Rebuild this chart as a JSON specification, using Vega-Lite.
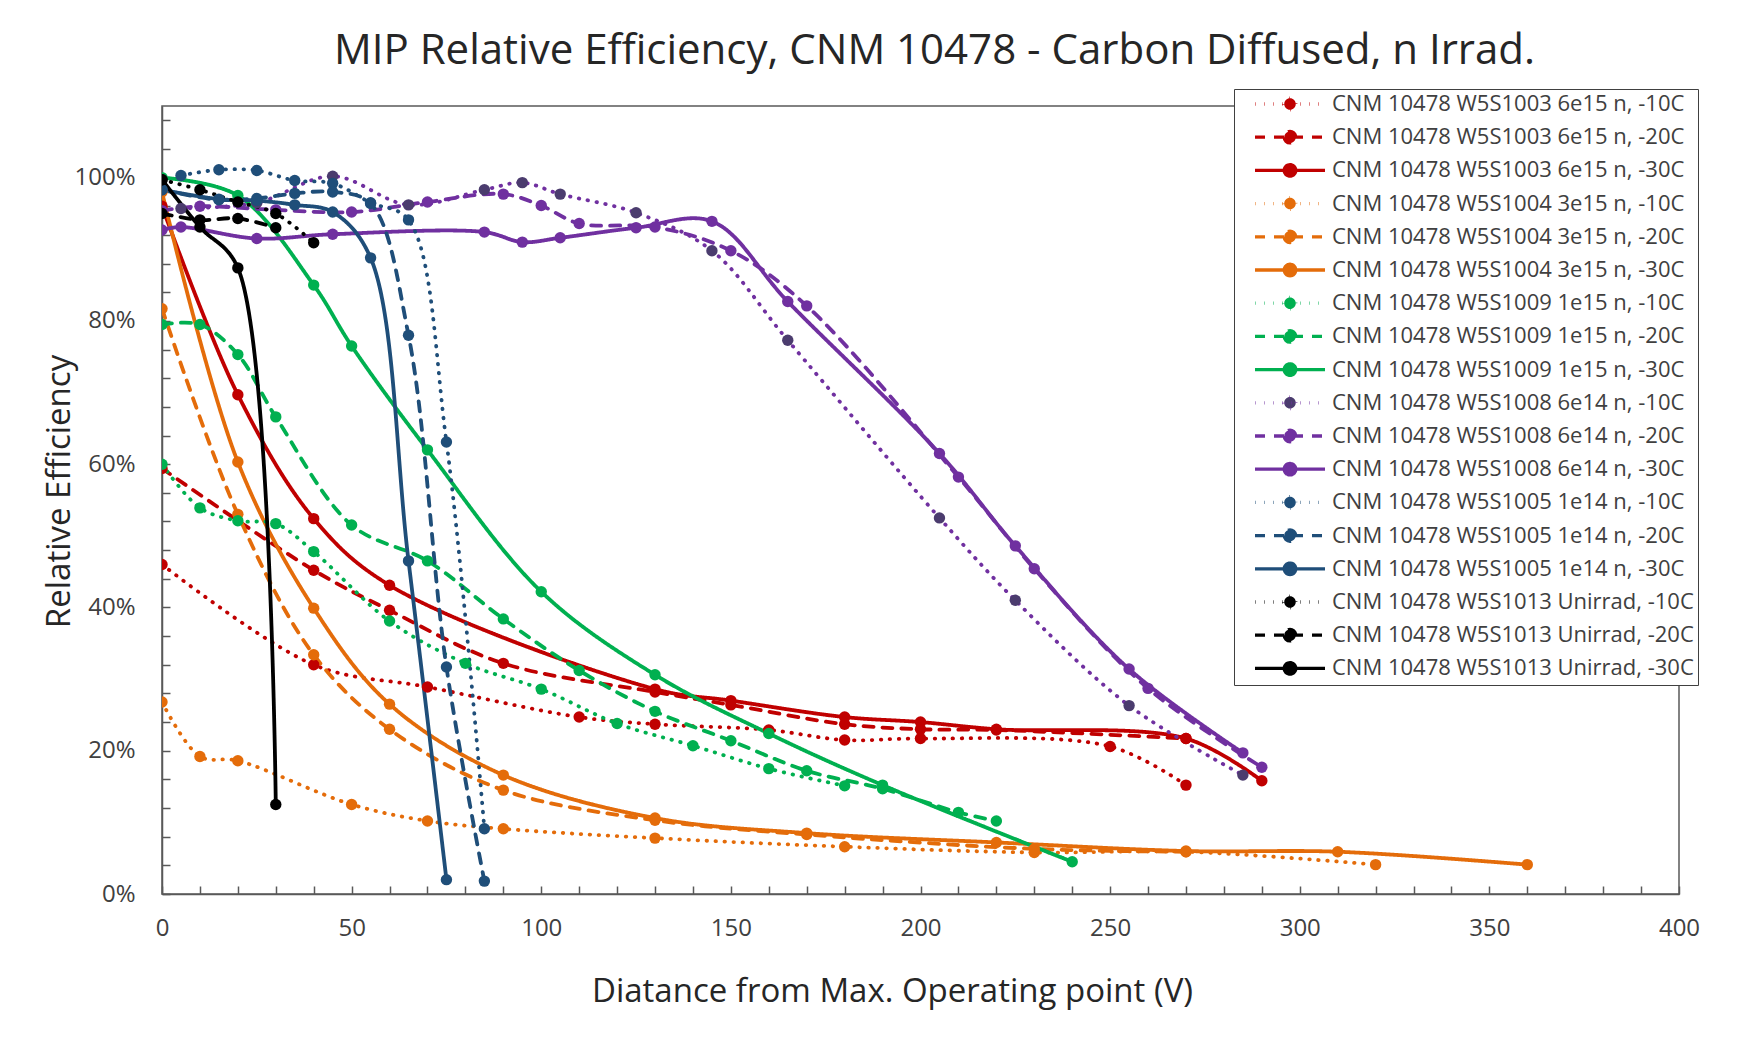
{
  "$schema": "https://vega.github.io/schema/vega-lite/v6.json",
  "width": 1517,
  "height": 788,
  "autosize": {"type": "none"},
  "padding": {"left": 162, "top": 106, "right": 60, "bottom": 146},
  "background": "white",
  "title": {"text": "MIP Relative Efficiency, CNM 10478 - Carbon Diffused, n Irrad.", "font": "Open Sans", "fontSize": 42, "fontWeight": "normal", "color": "#262626", "anchor": "middle", "dx": 14, "offset": 16},
  "config": {"view": {"stroke": "#595959", "strokeWidth": 1.5}, "font": "Open Sans"},
  "data": {"values": [
    {"s": "CNM 10478 W5S1003 6e15 n, -10C", "v": 0, "e": 0.46},
    {"s": "CNM 10478 W5S1003 6e15 n, -10C", "v": 40, "e": 0.32},
    {"s": "CNM 10478 W5S1003 6e15 n, -10C", "v": 70, "e": 0.289},
    {"s": "CNM 10478 W5S1003 6e15 n, -10C", "v": 110, "e": 0.247},
    {"s": "CNM 10478 W5S1003 6e15 n, -10C", "v": 130, "e": 0.237},
    {"s": "CNM 10478 W5S1003 6e15 n, -10C", "v": 160, "e": 0.229},
    {"s": "CNM 10478 W5S1003 6e15 n, -10C", "v": 180, "e": 0.215},
    {"s": "CNM 10478 W5S1003 6e15 n, -10C", "v": 200, "e": 0.217},
    {"s": "CNM 10478 W5S1003 6e15 n, -10C", "v": 250, "e": 0.206},
    {"s": "CNM 10478 W5S1003 6e15 n, -10C", "v": 270, "e": 0.152},
    {"s": "CNM 10478 W5S1003 6e15 n, -20C", "v": 0, "e": 0.594},
    {"s": "CNM 10478 W5S1003 6e15 n, -20C", "v": 40, "e": 0.452},
    {"s": "CNM 10478 W5S1003 6e15 n, -20C", "v": 60, "e": 0.396},
    {"s": "CNM 10478 W5S1003 6e15 n, -20C", "v": 90, "e": 0.322},
    {"s": "CNM 10478 W5S1003 6e15 n, -20C", "v": 130, "e": 0.282},
    {"s": "CNM 10478 W5S1003 6e15 n, -20C", "v": 150, "e": 0.264},
    {"s": "CNM 10478 W5S1003 6e15 n, -20C", "v": 180, "e": 0.237},
    {"s": "CNM 10478 W5S1003 6e15 n, -20C", "v": 200, "e": 0.23},
    {"s": "CNM 10478 W5S1003 6e15 n, -20C", "v": 220, "e": 0.229},
    {"s": "CNM 10478 W5S1003 6e15 n, -20C", "v": 270, "e": 0.217},
    {"s": "CNM 10478 W5S1003 6e15 n, -30C", "v": 0, "e": 0.96},
    {"s": "CNM 10478 W5S1003 6e15 n, -30C", "v": 20, "e": 0.697},
    {"s": "CNM 10478 W5S1003 6e15 n, -30C", "v": 40, "e": 0.524},
    {"s": "CNM 10478 W5S1003 6e15 n, -30C", "v": 60, "e": 0.431},
    {"s": "CNM 10478 W5S1003 6e15 n, -30C", "v": 130, "e": 0.286},
    {"s": "CNM 10478 W5S1003 6e15 n, -30C", "v": 150, "e": 0.27},
    {"s": "CNM 10478 W5S1003 6e15 n, -30C", "v": 180, "e": 0.247},
    {"s": "CNM 10478 W5S1003 6e15 n, -30C", "v": 200, "e": 0.24},
    {"s": "CNM 10478 W5S1003 6e15 n, -30C", "v": 220, "e": 0.23},
    {"s": "CNM 10478 W5S1003 6e15 n, -30C", "v": 270, "e": 0.217},
    {"s": "CNM 10478 W5S1003 6e15 n, -30C", "v": 290, "e": 0.158},
    {"s": "CNM 10478 W5S1004 3e15 n, -10C", "v": 0, "e": 0.268},
    {"s": "CNM 10478 W5S1004 3e15 n, -10C", "v": 10, "e": 0.192},
    {"s": "CNM 10478 W5S1004 3e15 n, -10C", "v": 20, "e": 0.186},
    {"s": "CNM 10478 W5S1004 3e15 n, -10C", "v": 50, "e": 0.125},
    {"s": "CNM 10478 W5S1004 3e15 n, -10C", "v": 70, "e": 0.102},
    {"s": "CNM 10478 W5S1004 3e15 n, -10C", "v": 90, "e": 0.091},
    {"s": "CNM 10478 W5S1004 3e15 n, -10C", "v": 130, "e": 0.078},
    {"s": "CNM 10478 W5S1004 3e15 n, -10C", "v": 180, "e": 0.066},
    {"s": "CNM 10478 W5S1004 3e15 n, -10C", "v": 230, "e": 0.058},
    {"s": "CNM 10478 W5S1004 3e15 n, -10C", "v": 270, "e": 0.059},
    {"s": "CNM 10478 W5S1004 3e15 n, -10C", "v": 320, "e": 0.041},
    {"s": "CNM 10478 W5S1004 3e15 n, -20C", "v": 0, "e": 0.817},
    {"s": "CNM 10478 W5S1004 3e15 n, -20C", "v": 20, "e": 0.53},
    {"s": "CNM 10478 W5S1004 3e15 n, -20C", "v": 40, "e": 0.334},
    {"s": "CNM 10478 W5S1004 3e15 n, -20C", "v": 60, "e": 0.23},
    {"s": "CNM 10478 W5S1004 3e15 n, -20C", "v": 90, "e": 0.145},
    {"s": "CNM 10478 W5S1004 3e15 n, -20C", "v": 130, "e": 0.103},
    {"s": "CNM 10478 W5S1004 3e15 n, -20C", "v": 170, "e": 0.083},
    {"s": "CNM 10478 W5S1004 3e15 n, -20C", "v": 230, "e": 0.063},
    {"s": "CNM 10478 W5S1004 3e15 n, -20C", "v": 270, "e": 0.059},
    {"s": "CNM 10478 W5S1004 3e15 n, -30C", "v": 0, "e": 0.98},
    {"s": "CNM 10478 W5S1004 3e15 n, -30C", "v": 20, "e": 0.603},
    {"s": "CNM 10478 W5S1004 3e15 n, -30C", "v": 40, "e": 0.399},
    {"s": "CNM 10478 W5S1004 3e15 n, -30C", "v": 60, "e": 0.265},
    {"s": "CNM 10478 W5S1004 3e15 n, -30C", "v": 90, "e": 0.166},
    {"s": "CNM 10478 W5S1004 3e15 n, -30C", "v": 130, "e": 0.106},
    {"s": "CNM 10478 W5S1004 3e15 n, -30C", "v": 170, "e": 0.085},
    {"s": "CNM 10478 W5S1004 3e15 n, -30C", "v": 220, "e": 0.072},
    {"s": "CNM 10478 W5S1004 3e15 n, -30C", "v": 270, "e": 0.06},
    {"s": "CNM 10478 W5S1004 3e15 n, -30C", "v": 310, "e": 0.059},
    {"s": "CNM 10478 W5S1004 3e15 n, -30C", "v": 360, "e": 0.041},
    {"s": "CNM 10478 W5S1009 1e15 n, -10C", "v": 0, "e": 0.6},
    {"s": "CNM 10478 W5S1009 1e15 n, -10C", "v": 10, "e": 0.539},
    {"s": "CNM 10478 W5S1009 1e15 n, -10C", "v": 20, "e": 0.521},
    {"s": "CNM 10478 W5S1009 1e15 n, -10C", "v": 30, "e": 0.517},
    {"s": "CNM 10478 W5S1009 1e15 n, -10C", "v": 40, "e": 0.478},
    {"s": "CNM 10478 W5S1009 1e15 n, -10C", "v": 60, "e": 0.381},
    {"s": "CNM 10478 W5S1009 1e15 n, -10C", "v": 80, "e": 0.322},
    {"s": "CNM 10478 W5S1009 1e15 n, -10C", "v": 100, "e": 0.286},
    {"s": "CNM 10478 W5S1009 1e15 n, -10C", "v": 120, "e": 0.238},
    {"s": "CNM 10478 W5S1009 1e15 n, -10C", "v": 140, "e": 0.207},
    {"s": "CNM 10478 W5S1009 1e15 n, -10C", "v": 160, "e": 0.175},
    {"s": "CNM 10478 W5S1009 1e15 n, -10C", "v": 180, "e": 0.151},
    {"s": "CNM 10478 W5S1009 1e15 n, -20C", "v": 0, "e": 0.795},
    {"s": "CNM 10478 W5S1009 1e15 n, -20C", "v": 10, "e": 0.795},
    {"s": "CNM 10478 W5S1009 1e15 n, -20C", "v": 20, "e": 0.753},
    {"s": "CNM 10478 W5S1009 1e15 n, -20C", "v": 30, "e": 0.666},
    {"s": "CNM 10478 W5S1009 1e15 n, -20C", "v": 50, "e": 0.515},
    {"s": "CNM 10478 W5S1009 1e15 n, -20C", "v": 70, "e": 0.465},
    {"s": "CNM 10478 W5S1009 1e15 n, -20C", "v": 90, "e": 0.384},
    {"s": "CNM 10478 W5S1009 1e15 n, -20C", "v": 110, "e": 0.312},
    {"s": "CNM 10478 W5S1009 1e15 n, -20C", "v": 130, "e": 0.255},
    {"s": "CNM 10478 W5S1009 1e15 n, -20C", "v": 150, "e": 0.214},
    {"s": "CNM 10478 W5S1009 1e15 n, -20C", "v": 170, "e": 0.172},
    {"s": "CNM 10478 W5S1009 1e15 n, -20C", "v": 190, "e": 0.147},
    {"s": "CNM 10478 W5S1009 1e15 n, -20C", "v": 210, "e": 0.114},
    {"s": "CNM 10478 W5S1009 1e15 n, -20C", "v": 220, "e": 0.102},
    {"s": "CNM 10478 W5S1009 1e15 n, -30C", "v": 0, "e": 1.0},
    {"s": "CNM 10478 W5S1009 1e15 n, -30C", "v": 20, "e": 0.975},
    {"s": "CNM 10478 W5S1009 1e15 n, -30C", "v": 40, "e": 0.85},
    {"s": "CNM 10478 W5S1009 1e15 n, -30C", "v": 50, "e": 0.765},
    {"s": "CNM 10478 W5S1009 1e15 n, -30C", "v": 70, "e": 0.62},
    {"s": "CNM 10478 W5S1009 1e15 n, -30C", "v": 100, "e": 0.422},
    {"s": "CNM 10478 W5S1009 1e15 n, -30C", "v": 130, "e": 0.306},
    {"s": "CNM 10478 W5S1009 1e15 n, -30C", "v": 160, "e": 0.224},
    {"s": "CNM 10478 W5S1009 1e15 n, -30C", "v": 190, "e": 0.152},
    {"s": "CNM 10478 W5S1009 1e15 n, -30C", "v": 240, "e": 0.045},
    {"s": "CNM 10478 W5S1008 6e14 n, -10C", "v": 5, "e": 0.957},
    {"s": "CNM 10478 W5S1008 6e14 n, -10C", "v": 25, "e": 0.965},
    {"s": "CNM 10478 W5S1008 6e14 n, -10C", "v": 45, "e": 1.002},
    {"s": "CNM 10478 W5S1008 6e14 n, -10C", "v": 65, "e": 0.962},
    {"s": "CNM 10478 W5S1008 6e14 n, -10C", "v": 85, "e": 0.983},
    {"s": "CNM 10478 W5S1008 6e14 n, -10C", "v": 95, "e": 0.993},
    {"s": "CNM 10478 W5S1008 6e14 n, -10C", "v": 105, "e": 0.977},
    {"s": "CNM 10478 W5S1008 6e14 n, -10C", "v": 125, "e": 0.951},
    {"s": "CNM 10478 W5S1008 6e14 n, -10C", "v": 145, "e": 0.898},
    {"s": "CNM 10478 W5S1008 6e14 n, -10C", "v": 165, "e": 0.773},
    {"s": "CNM 10478 W5S1008 6e14 n, -10C", "v": 205, "e": 0.525},
    {"s": "CNM 10478 W5S1008 6e14 n, -10C", "v": 225, "e": 0.41},
    {"s": "CNM 10478 W5S1008 6e14 n, -10C", "v": 255, "e": 0.263},
    {"s": "CNM 10478 W5S1008 6e14 n, -10C", "v": 285, "e": 0.166},
    {"s": "CNM 10478 W5S1008 6e14 n, -20C", "v": 0, "e": 0.954},
    {"s": "CNM 10478 W5S1008 6e14 n, -20C", "v": 10, "e": 0.96},
    {"s": "CNM 10478 W5S1008 6e14 n, -20C", "v": 30, "e": 0.955},
    {"s": "CNM 10478 W5S1008 6e14 n, -20C", "v": 50, "e": 0.952},
    {"s": "CNM 10478 W5S1008 6e14 n, -20C", "v": 70, "e": 0.966},
    {"s": "CNM 10478 W5S1008 6e14 n, -20C", "v": 90, "e": 0.977},
    {"s": "CNM 10478 W5S1008 6e14 n, -20C", "v": 100, "e": 0.961},
    {"s": "CNM 10478 W5S1008 6e14 n, -20C", "v": 110, "e": 0.936},
    {"s": "CNM 10478 W5S1008 6e14 n, -20C", "v": 130, "e": 0.931},
    {"s": "CNM 10478 W5S1008 6e14 n, -20C", "v": 150, "e": 0.898},
    {"s": "CNM 10478 W5S1008 6e14 n, -20C", "v": 170, "e": 0.821},
    {"s": "CNM 10478 W5S1008 6e14 n, -20C", "v": 210, "e": 0.582},
    {"s": "CNM 10478 W5S1008 6e14 n, -20C", "v": 230, "e": 0.454},
    {"s": "CNM 10478 W5S1008 6e14 n, -20C", "v": 260, "e": 0.287},
    {"s": "CNM 10478 W5S1008 6e14 n, -20C", "v": 290, "e": 0.177},
    {"s": "CNM 10478 W5S1008 6e14 n, -30C", "v": 0, "e": 0.927},
    {"s": "CNM 10478 W5S1008 6e14 n, -30C", "v": 5, "e": 0.931},
    {"s": "CNM 10478 W5S1008 6e14 n, -30C", "v": 25, "e": 0.915},
    {"s": "CNM 10478 W5S1008 6e14 n, -30C", "v": 45, "e": 0.921},
    {"s": "CNM 10478 W5S1008 6e14 n, -30C", "v": 85, "e": 0.924},
    {"s": "CNM 10478 W5S1008 6e14 n, -30C", "v": 95, "e": 0.91},
    {"s": "CNM 10478 W5S1008 6e14 n, -30C", "v": 105, "e": 0.916},
    {"s": "CNM 10478 W5S1008 6e14 n, -30C", "v": 125, "e": 0.93},
    {"s": "CNM 10478 W5S1008 6e14 n, -30C", "v": 145, "e": 0.939},
    {"s": "CNM 10478 W5S1008 6e14 n, -30C", "v": 165, "e": 0.827},
    {"s": "CNM 10478 W5S1008 6e14 n, -30C", "v": 205, "e": 0.615},
    {"s": "CNM 10478 W5S1008 6e14 n, -30C", "v": 225, "e": 0.486},
    {"s": "CNM 10478 W5S1008 6e14 n, -30C", "v": 255, "e": 0.314},
    {"s": "CNM 10478 W5S1008 6e14 n, -30C", "v": 285, "e": 0.197},
    {"s": "CNM 10478 W5S1005 1e14 n, -10C", "v": 5, "e": 1.003},
    {"s": "CNM 10478 W5S1005 1e14 n, -10C", "v": 15, "e": 1.011},
    {"s": "CNM 10478 W5S1005 1e14 n, -10C", "v": 25, "e": 1.01},
    {"s": "CNM 10478 W5S1005 1e14 n, -10C", "v": 35, "e": 0.996},
    {"s": "CNM 10478 W5S1005 1e14 n, -10C", "v": 45, "e": 0.992},
    {"s": "CNM 10478 W5S1005 1e14 n, -10C", "v": 55, "e": 0.965},
    {"s": "CNM 10478 W5S1005 1e14 n, -10C", "v": 65, "e": 0.941},
    {"s": "CNM 10478 W5S1005 1e14 n, -10C", "v": 75, "e": 0.631},
    {"s": "CNM 10478 W5S1005 1e14 n, -10C", "v": 85, "e": 0.091},
    {"s": "CNM 10478 W5S1005 1e14 n, -20C", "v": 0, "e": 0.983},
    {"s": "CNM 10478 W5S1005 1e14 n, -20C", "v": 15, "e": 0.969},
    {"s": "CNM 10478 W5S1005 1e14 n, -20C", "v": 25, "e": 0.971},
    {"s": "CNM 10478 W5S1005 1e14 n, -20C", "v": 35, "e": 0.978},
    {"s": "CNM 10478 W5S1005 1e14 n, -20C", "v": 45, "e": 0.98},
    {"s": "CNM 10478 W5S1005 1e14 n, -20C", "v": 55, "e": 0.964},
    {"s": "CNM 10478 W5S1005 1e14 n, -20C", "v": 65, "e": 0.78},
    {"s": "CNM 10478 W5S1005 1e14 n, -20C", "v": 75, "e": 0.317},
    {"s": "CNM 10478 W5S1005 1e14 n, -20C", "v": 85, "e": 0.018},
    {"s": "CNM 10478 W5S1005 1e14 n, -30C", "v": 0, "e": 0.983},
    {"s": "CNM 10478 W5S1005 1e14 n, -30C", "v": 15, "e": 0.97},
    {"s": "CNM 10478 W5S1005 1e14 n, -30C", "v": 25, "e": 0.968},
    {"s": "CNM 10478 W5S1005 1e14 n, -30C", "v": 35, "e": 0.962},
    {"s": "CNM 10478 W5S1005 1e14 n, -30C", "v": 45, "e": 0.952},
    {"s": "CNM 10478 W5S1005 1e14 n, -30C", "v": 55, "e": 0.888},
    {"s": "CNM 10478 W5S1005 1e14 n, -30C", "v": 65, "e": 0.465},
    {"s": "CNM 10478 W5S1005 1e14 n, -30C", "v": 75, "e": 0.02},
    {"s": "CNM 10478 W5S1013 Unirrad, -10C", "v": 0, "e": 0.997},
    {"s": "CNM 10478 W5S1013 Unirrad, -10C", "v": 10, "e": 0.983},
    {"s": "CNM 10478 W5S1013 Unirrad, -10C", "v": 20, "e": 0.966},
    {"s": "CNM 10478 W5S1013 Unirrad, -10C", "v": 30, "e": 0.95},
    {"s": "CNM 10478 W5S1013 Unirrad, -10C", "v": 40, "e": 0.909},
    {"s": "CNM 10478 W5S1013 Unirrad, -20C", "v": 0, "e": 0.95},
    {"s": "CNM 10478 W5S1013 Unirrad, -20C", "v": 10, "e": 0.941},
    {"s": "CNM 10478 W5S1013 Unirrad, -20C", "v": 20, "e": 0.943},
    {"s": "CNM 10478 W5S1013 Unirrad, -20C", "v": 30, "e": 0.93},
    {"s": "CNM 10478 W5S1013 Unirrad, -30C", "v": 0, "e": 0.997},
    {"s": "CNM 10478 W5S1013 Unirrad, -30C", "v": 10, "e": 0.931},
    {"s": "CNM 10478 W5S1013 Unirrad, -30C", "v": 20, "e": 0.874},
    {"s": "CNM 10478 W5S1013 Unirrad, -30C", "v": 30, "e": 0.125}
  ]},
  "encoding": {
    "x": {"field": "v", "type": "quantitative", "scale": {"domain": [0, 400], "nice": false, "zero": false},
      "axis": {"values": [0,10,20,30,40,50,60,70,80,90,100,110,120,130,140,150,160,170,180,190,200,210,220,230,240,250,260,270,280,290,300,310,320,330,340,350,360,370,380,390,400],
        "labelExpr": "datum.value % 50 == 0 ? datum.label : ''", "title": "Diatance from Max. Operating point (V)", "grid": false,
        "tickSize": -8, "tickColor": "#595959", "tickWidth": 1.5, "domainColor": "#595959", "domainWidth": 1.5,
        "labelFont": "Open Sans", "labelFontSize": 24, "labelColor": "#404040", "labelPadding": 30, "labelFlush": false, "labelOverlap": false,
        "titleFont": "Open Sans", "titleFontSize": 33, "titleFontWeight": "normal", "titleColor": "#262626", "titleX": 730, "titleY": 97, "titleBaseline": "middle", "titleAlign": "center"}},
    "y": {"field": "e", "type": "quantitative", "scale": {"domain": [0, 1.1], "nice": false},
      "axis": {"values": [0,0.04,0.08,0.12,0.16,0.2,0.24,0.28,0.32,0.36,0.4,0.44,0.48,0.52,0.56,0.6,0.64,0.68,0.72,0.76,0.8,0.84,0.88,0.92,0.96,1.0,1.04,1.08],
        "labelExpr": "round(datum.value*100) % 20 == 0 ? format(datum.value, '.0%') : ''", "title": "Relative Efficiency", "grid": false,
        "tickSize": -8, "tickColor": "#595959", "tickWidth": 1.5, "domainColor": "#595959", "domainWidth": 1.5,
        "labelFont": "Open Sans", "labelFontSize": 24, "labelColor": "#404040", "labelPadding": 35, "labelOverlap": false, "labelFlush": false,
        "titleFont": "Open Sans", "titleFontSize": 33, "titleFontWeight": "normal", "titleColor": "#262626", "titleX": -103, "titleY": 385, "titleAngle": -90, "titleBaseline": "middle", "titleAlign": "center"}}
  },
  "layer": [
    {
      "mark": {"type": "line", "interpolate": "catmull-rom", "strokeWidth": 3.8, "strokeCap": "round", "clip": true},
      "encoding": {
        "color": {"field": "s", "type": "nominal",
          "scale": {"domain": ["CNM 10478 W5S1003 6e15 n, -10C","CNM 10478 W5S1003 6e15 n, -20C","CNM 10478 W5S1003 6e15 n, -30C","CNM 10478 W5S1004 3e15 n, -10C","CNM 10478 W5S1004 3e15 n, -20C","CNM 10478 W5S1004 3e15 n, -30C","CNM 10478 W5S1009 1e15 n, -10C","CNM 10478 W5S1009 1e15 n, -20C","CNM 10478 W5S1009 1e15 n, -30C","CNM 10478 W5S1008 6e14 n, -10C","CNM 10478 W5S1008 6e14 n, -20C","CNM 10478 W5S1008 6e14 n, -30C","CNM 10478 W5S1005 1e14 n, -10C","CNM 10478 W5S1005 1e14 n, -20C","CNM 10478 W5S1005 1e14 n, -30C","CNM 10478 W5S1013 Unirrad, -10C","CNM 10478 W5S1013 Unirrad, -20C","CNM 10478 W5S1013 Unirrad, -30C"],
            "range": ["#C00000","#C00000","#C00000","#E46C0A","#E46C0A","#E46C0A","#00B050","#00B050","#00B050","#7030A0","#7030A0","#7030A0","#1F4E79","#1F4E79","#1F4E79","#000000","#000000","#000000"]},
          "legend": {"title": null, "orient": "none", "legendX": 1072, "legendY": -17,
            "symbolType": "M-7,0H7M-1.15,0A1.15,1.15 0 1,0 1.15,0A1.15,1.15 0 1,0 -1.15,0Z",
            "symbolSize": 100, "symbolStrokeWidth": 3.3, "symbolOffset": 41,
            "labelFont": "Open Sans", "labelFontSize": 22, "labelColor": "#404040", "labelOffset": 31, "labelLimit": 600,
            "rowPadding": 7.2, "padding": 4, "strokeColor": "#404040", "fillColor": "white",
            "encode": {"symbols": {"update": {"fill": {"scale": "fill", "field": "value"}, "opacity": {"value": 1}}}}}},
        "strokeDash": {"field": "s", "type": "nominal",
          "scale": {"domain": ["CNM 10478 W5S1003 6e15 n, -10C","CNM 10478 W5S1003 6e15 n, -20C","CNM 10478 W5S1003 6e15 n, -30C","CNM 10478 W5S1004 3e15 n, -10C","CNM 10478 W5S1004 3e15 n, -20C","CNM 10478 W5S1004 3e15 n, -30C","CNM 10478 W5S1009 1e15 n, -10C","CNM 10478 W5S1009 1e15 n, -20C","CNM 10478 W5S1009 1e15 n, -30C","CNM 10478 W5S1008 6e14 n, -10C","CNM 10478 W5S1008 6e14 n, -20C","CNM 10478 W5S1008 6e14 n, -30C","CNM 10478 W5S1005 1e14 n, -10C","CNM 10478 W5S1005 1e14 n, -20C","CNM 10478 W5S1005 1e14 n, -30C","CNM 10478 W5S1013 Unirrad, -10C","CNM 10478 W5S1013 Unirrad, -20C","CNM 10478 W5S1013 Unirrad, -30C"],
            "range": [[0.5,8.5],[10,9],[1,0],[0.5,8.5],[10,9],[1,0],[0.5,8.5],[10,9],[1,0],[0.5,8.5],[10,9],[1,0],[0.5,8.5],[10,9],[1,0],[0.5,8.5],[10,9],[1,0]]}}
      }
    },
    {
      "mark": {"type": "point", "filled": true, "size": 130, "opacity": 1, "clip": true},
      "encoding": {
        "fill": {"field": "s", "type": "nominal", "legend": null,
          "scale": {"domain": ["CNM 10478 W5S1003 6e15 n, -10C","CNM 10478 W5S1003 6e15 n, -20C","CNM 10478 W5S1003 6e15 n, -30C","CNM 10478 W5S1004 3e15 n, -10C","CNM 10478 W5S1004 3e15 n, -20C","CNM 10478 W5S1004 3e15 n, -30C","CNM 10478 W5S1009 1e15 n, -10C","CNM 10478 W5S1009 1e15 n, -20C","CNM 10478 W5S1009 1e15 n, -30C","CNM 10478 W5S1008 6e14 n, -10C","CNM 10478 W5S1008 6e14 n, -20C","CNM 10478 W5S1008 6e14 n, -30C","CNM 10478 W5S1005 1e14 n, -10C","CNM 10478 W5S1005 1e14 n, -20C","CNM 10478 W5S1005 1e14 n, -30C","CNM 10478 W5S1013 Unirrad, -10C","CNM 10478 W5S1013 Unirrad, -20C","CNM 10478 W5S1013 Unirrad, -30C"],
            "range": ["#C00000","#C00000","#C00000","#E46C0A","#E46C0A","#E46C0A","#00B050","#00B050","#00B050","#4B3C6E","#7030A0","#7030A0","#1F4E79","#1F4E79","#1F4E79","#000000","#000000","#000000"]}}
      }
    }
  ]
}
